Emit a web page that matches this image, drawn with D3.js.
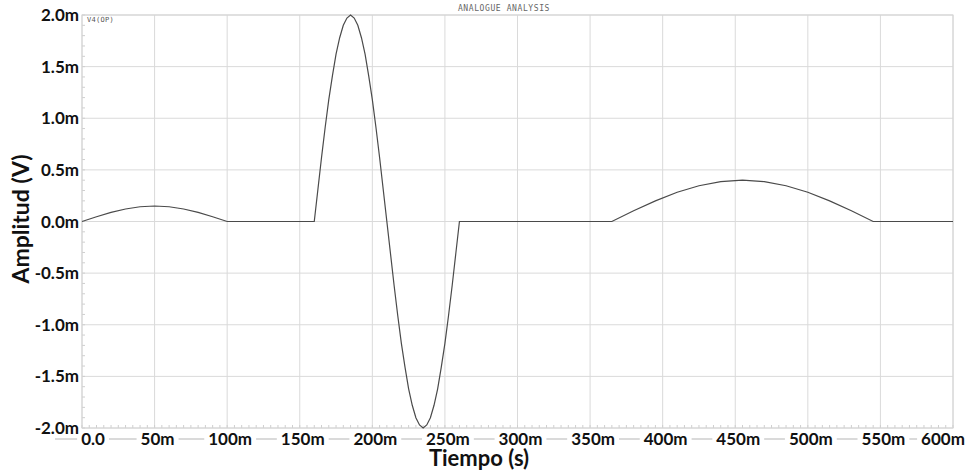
<!DOCTYPE html>
<html>
<head>
<meta charset="utf-8">
<script src="https://cdn.jsdelivr.net/npm/d3@7"></script>
<style>
  body { margin: 0; background: #fff; }
  .tick-label { font-family: Lato, "Open Sans", sans-serif; font-weight: bold; font-size: 17px; fill: #111; }
</style>
</head>
<body>
<div id="chart"></div>
<script>
// time in ms (m = milli), amplitude in mV
const timeValues = [0, 10, 20, 30, 40, 50, 60, 70, 80, 90, 100, 160,
  162.5, 165, 167.5, 170, 172.5, 175, 177.5, 180, 182.5, 185,
  187.5, 190, 192.5, 195, 197.5, 200, 202.5, 205, 207.5, 210,
  212.5, 215, 217.5, 220, 222.5, 225, 227.5, 230, 232.5, 235,
  237.5, 240, 242.5, 245, 247.5, 250, 252.5, 255, 257.5, 260,
  365, 380, 395, 410, 425, 440, 455, 470, 485, 500, 515, 530, 545, 600];
const ampValues = [0, 0.046, 0.088, 0.121, 0.143, 0.15, 0.143, 0.121, 0.088, 0.046, 0, 0,
  0.31, 0.62, 0.91, 1.18, 1.41, 1.62, 1.78, 1.90, 1.97, 2.0,
  1.97, 1.90, 1.78, 1.62, 1.41, 1.18, 0.91, 0.62, 0.31, 0,
  -0.31, -0.62, -0.91, -1.18, -1.41, -1.62, -1.78, -1.90, -1.97, -2.0,
  -1.97, -1.90, -1.78, -1.62, -1.41, -1.18, -0.91, -0.62, -0.31, 0,
  0, 0.104, 0.2, 0.283, 0.346, 0.386, 0.4, 0.386, 0.346, 0.283, 0.2, 0.104, 0, 0];

const xTicks = [0, 50, 100, 150, 200, 250, 300, 350, 400, 450, 500, 550, 600];
const xTickLabels = ["0.0", "50m", "100m", "150m", "200m", "250m", "300m", "350m", "400m", "450m", "500m", "550m", "600m"];
const yTicks = [2, 1.5, 1, 0.5, 0, -0.5, -1, -1.5, -2];
const yTickLabels = ["2.0m", "1.5m", "1.0m", "0.5m", "0.0m", "-0.5m", "-1.0m", "-1.5m", "-2.0m"];

const W = 973, H = 472;
const plot = {left: 82, right: 953, top: 15, bottom: 428};

const svg = d3.select("#chart").append("svg")
  .attr("width", W)
  .attr("height", H);

const x = d3.scaleLinear().domain([0, 600]).range([plot.left, plot.right]);
const y = d3.scaleLinear().domain([-2, 2]).range([plot.bottom, plot.top]);

// grid
svg.append("g").selectAll("line")
  .data(xTicks)
  .enter().append("line")
  .attr("x1", d => x(d)).attr("x2", d => x(d))
  .attr("y1", plot.top).attr("y2", plot.bottom)
  .attr("stroke", "#dadada");

svg.append("g").selectAll("line")
  .data(yTicks)
  .enter().append("line")
  .attr("x1", plot.left).attr("x2", plot.right)
  .attr("y1", d => y(d)).attr("y2", d => y(d))
  .attr("stroke", "#dadada");

// minor ticks on left and bottom borders
svg.append("g").selectAll("line")
  .data(d3.range(-2, 2.0001, 0.1))
  .enter().append("line")
  .attr("x1", plot.left).attr("x2", plot.left + 3)
  .attr("y1", d => y(d)).attr("y2", d => y(d))
  .attr("stroke", "#cfcfcf");

svg.append("g").selectAll("line")
  .data(d3.range(0, 600.001, 5))
  .enter().append("line")
  .attr("x1", d => x(d)).attr("x2", d => x(d))
  .attr("y1", plot.bottom).attr("y2", plot.bottom - 3)
  .attr("stroke", "#cfcfcf");

// frame
svg.append("rect")
  .attr("x", plot.left).attr("y", plot.top)
  .attr("width", plot.right - plot.left).attr("height", plot.bottom - plot.top)
  .attr("fill", "none")
  .attr("stroke", "#d4d4d4");

// curve
const points = timeValues.map((t, i) => [t, ampValues[i]]);
const line = d3.line()
  .x(d => x(d[0]))
  .y(d => y(d[1]));

svg.append("path")
  .datum(points)
  .attr("d", line)
  .attr("fill", "none")
  .attr("stroke", "#4a4a4a")
  .attr("stroke-width", 1.2);

// x tick labels, sitting on a grey rule
svg.append("line")
  .attr("x1", 55).attr("x2", plot.right)
  .attr("y1", 439).attr("y2", 439)
  .attr("stroke", "#dadada").attr("stroke-width", 2);

const labelX = d => Math.max(plot.left + 11, Math.min(plot.right - 10, x(d) + 3));

const xl = svg.append("g").selectAll("g")
  .data(xTicks)
  .enter().append("g")
  .attr("transform", d => `translate(${labelX(d)}, 445)`);

xl.append("text")
  .attr("class", "tick-label")
  .attr("text-anchor", "middle")
  .text((d, i) => xTickLabels[i]);

xl.each(function () {
  const g = d3.select(this);
  const bb = g.select("text").node().getBBox();
  g.insert("rect", "text")
    .attr("x", bb.x - 4).attr("y", -12)
    .attr("width", bb.width + 8).attr("height", 11)
    .attr("fill", "#fff");
});

// y tick labels
svg.append("g").selectAll("text")
  .data(yTicks)
  .enter().append("text")
  .attr("class", "tick-label")
  .attr("x", 79)
  .attr("y", d => y(d) + 6)
  .attr("text-anchor", "end")
  .text((d, i) => yTickLabels[i]);

// axis titles
svg.append("text")
  .attr("x", 479).attr("y", 466)
  .attr("text-anchor", "middle")
  .style("font-family", "Lato, 'Open Sans', sans-serif")
  .style("font-weight", "bold")
  .style("font-size", "22px")
  .attr("fill", "#111")
  .text("Tiempo (s)");

svg.append("text")
  .attr("transform", "translate(29, 219) rotate(-90)")
  .attr("text-anchor", "middle")
  .style("font-family", "Lato, 'Open Sans', sans-serif")
  .style("font-weight", "bold")
  .style("font-size", "23px")
  .attr("fill", "#111")
  .text("Amplitud (V)");

// header texts
svg.append("text")
  .attr("x", 504).attr("y", 11)
  .attr("text-anchor", "middle")
  .style("font-family", "'DejaVu Sans Mono', monospace")
  .style("font-size", "8px")
  .style("letter-spacing", "0.6px")
  .attr("fill", "#666")
  .text("ANALOGUE ANALYSIS");

svg.append("text")
  .attr("x", 87).attr("y", 22)
  .style("font-family", "'DejaVu Sans Mono', monospace")
  .style("font-size", "7px")
  .style("letter-spacing", "0.3px")
  .attr("fill", "#555")
  .text("V4(OP)");
</script>
</body>
</html>
